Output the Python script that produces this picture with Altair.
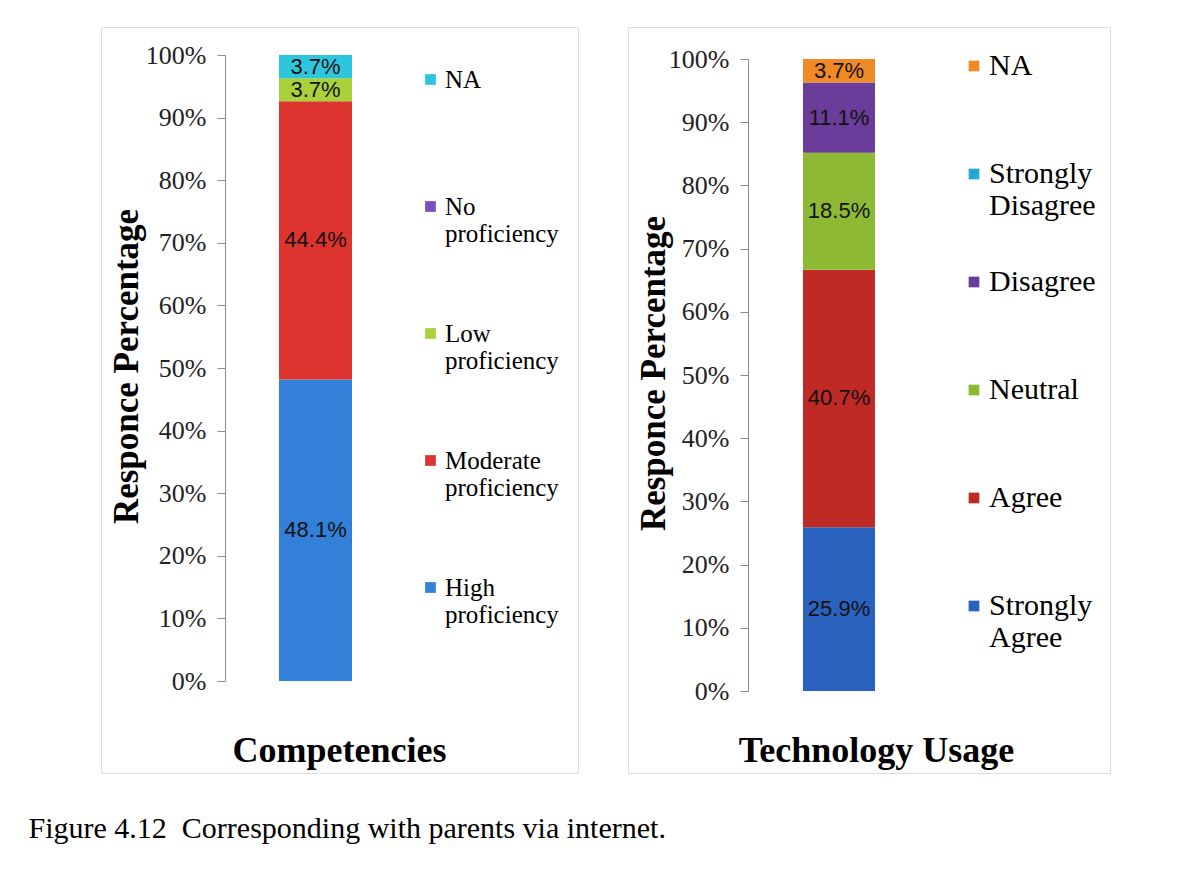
import altair as alt
import pandas as pd

# ---- data ----
comp_cats = ["High proficiency", "Moderate proficiency", "Low proficiency", "No proficiency", "NA"]
comp_vals = [48.1, 44.4, 3.7, 0.0, 3.7]
comp_colors = ["#3380d8", "#dd3430", "#a9d13a", "#7a4fbf", "#2ec6dc"]

tech_cats = ["Strongly Agree", "Agree", "Neutral", "Disagree", "Strongly Disagree", "NA"]
tech_vals = [25.9, 40.7, 18.5, 11.1, 0.0, 3.7]
tech_colors = ["#2962bf", "#c02a26", "#8db934", "#6a3d9a", "#22aacc", "#f08a24"]

y_ticks = [0, 0.1, 0.2, 0.3, 0.4, 0.5, 0.6, 0.7, 0.8, 0.9, 1.0]

SERIF = "Liberation Serif"
SANS = "Liberation Sans"


def panel(name, cats, vals, colors, width, height, yrange, axis_x, bar_range,
          xtitle, xtitle_x, legend_x, legend_y, legend_font, legend_pad, label_off):
    df = pd.DataFrame({"panel": name, "cat": cats, "pct": vals, "idx": list(range(len(cats)))})
    legend_order = list(reversed(cats))
    base = alt.Chart(df).transform_joinaggregate(total="sum(pct)")
    xaxis = alt.Axis(
        title=xtitle, labels=False, ticks=False, domain=False,
        titleFont=SERIF, titleFontSize=36, titleFontWeight="bold", titleColor="black",
        titleX=xtitle_x, titleY=-23, titleBaseline="middle", titleAlign="center",
    )
    yaxis = alt.Axis(
        title="Responce Percentage", values=y_ticks, format=".0%", grid=False,
        offset=-axis_x, domainColor="#8c8c8c", tickColor="#8c8c8c", tickSize=8,
        labelFont=SERIF, labelFontSize=26, labelColor="#222", labelPadding=11,
        titleFont=SERIF, titleFontSize=35, titleFontWeight="bold", titleColor="black",
        titleX=25 - axis_x, titleY=(yrange[0] + yrange[1]) / 2 - 2,
        titleAngle=270, titleBaseline="middle", titleAlign="center",
    )
    xscale = alt.Scale(range=bar_range, paddingInner=0, paddingOuter=0)
    yscale = alt.Scale(domain=[0, 1], range=yrange, nice=False, zero=True)
    bars = base.mark_bar().encode(
        x=alt.X("panel:N", scale=xscale, axis=xaxis),
        y=alt.Y("pct:Q", stack="normalize", scale=yscale, axis=yaxis),
        color=alt.Color(
            "cat:N",
            scale=alt.Scale(domain=cats, range=colors),
            sort=legend_order,
            legend=alt.Legend(
                title=None, orient="none", legendX=legend_x, legendY=legend_y,
                direction="vertical", columns=1, gridAlign="all",
                symbolType="square", symbolSize=115, symbolStrokeWidth=0,
                labelFont=SERIF, labelFontSize=legend_font, labelColor="black",
                labelExpr="split(datum.label, ' ')", labelLimit=400,
                rowPadding=legend_pad, labelOffset=label_off, values=legend_order,
            ),
        ),
        order=alt.Order("idx:Q", sort="ascending"),
    )
    labels = base.transform_filter("datum.pct > 0").transform_window(
        cum="sum(pct)", sort=[alt.SortField("idx")], frame=[None, 0]
    ).transform_calculate(
        mid="(datum.cum - datum.pct / 2) / datum.total",
        lab="format(datum.pct, '.1f') + '%'",
    ).mark_text(font=SANS, fontSize=22, color="#111").encode(
        x=alt.X("panel:N", scale=xscale, axis=xaxis),
        y=alt.Y("mid:Q", scale=yscale, axis=yaxis),
        text="lab:N",
    )
    return alt.layer(bars, labels).properties(width=width, height=height)


p1 = panel("Competencies", comp_cats, comp_vals, comp_colors, 477, 746, [654, 28], 124,
           [178, 251], "Competencies", 238, 317, 40, 25, 74, 2)
p2 = panel("Technology Usage", tech_cats, tech_vals, tech_colors, 482, 746, [664, 32], 120,
           [175, 247], "Technology Usage", 248, 331, 24, 30, 46, 0)

chart = alt.hconcat(p1, p2, spacing=48).resolve_scale(
    color="independent", x="independent", y="independent"
).properties(
    title=alt.TitleParams(
        text="Figure 4.12\u00a0\u00a0Corresponding with parents via internet.",
        orient="bottom", anchor="start", font=SERIF, fontSize=30, fontWeight="normal",
        color="black", offset=40, dx=-72,
    ),
    padding={"left": 20, "top": 18, "right": 10, "bottom": 10},
).configure_view(stroke="#9a9a9a", strokeWidth=1.5).configure(background="white")

chart.save("out.html", embed_options={"renderer": "svg", "actions": False})
